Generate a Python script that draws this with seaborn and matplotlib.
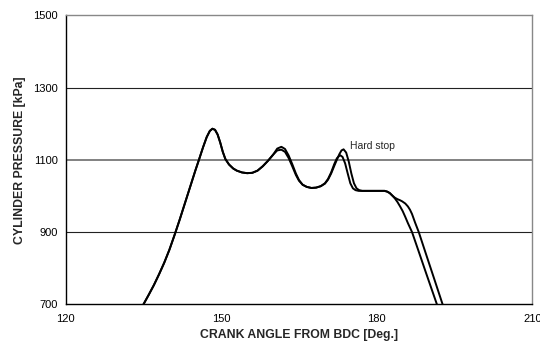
import matplotlib
matplotlib.use("Agg")
import matplotlib.pyplot as plt
from matplotlib.ticker import MultipleLocator
import seaborn as sns
import pandas as pd

# Shared compression / first-peak section (both cases identical)
common_angle = [135.0, 136.0, 137.0, 138.0, 139.0, 140.0, 141.0, 142.0, 143.0, 144.0,
                145.0, 145.7, 146.5, 147.2, 147.8, 148.3, 148.8, 149.3, 149.8, 150.3,
                150.8, 151.5, 152.3, 153.0, 154.0, 155.0, 156.0, 157.0, 158.0, 159.0,
                160.0]
common_pressure = [700, 726, 753, 783, 815, 851, 892, 935, 980, 1025,
                   1070, 1100, 1135, 1163, 1180, 1186, 1183, 1170, 1148, 1122,
                   1102, 1087, 1076, 1070, 1065, 1063, 1064, 1070, 1082, 1097,
                   1114]

# Soft-stop case
soft_angle = [160.8, 161.6, 162.3, 163.0, 163.7, 164.4, 165.0, 165.7, 166.5, 167.4,
              168.3, 169.2, 170.0, 170.6, 171.2, 171.8, 172.3, 172.9, 173.4, 173.9,
              174.4, 174.9, 175.4, 175.9, 176.5, 178.0, 180.0, 181.5, 182.0, 182.5,
              183.0, 183.5, 184.0, 184.5, 185.0, 185.5, 186.0, 186.8, 188.0, 189.5,
              191.6]
soft_pressure = [1126, 1128, 1122, 1105, 1082, 1058, 1042, 1031, 1025, 1022,
                 1023, 1027, 1035, 1047, 1065, 1088, 1104, 1113, 1108, 1090,
                 1062, 1035, 1021, 1016, 1014, 1014, 1014, 1014, 1012, 1008,
                 1001, 993, 983, 971, 958, 942, 925, 900, 850, 787,
                 700]

# Hard-stop case
hard_angle = [160.8, 161.6, 162.3, 163.0, 163.7, 164.4, 165.0, 165.7, 166.5, 167.4,
              168.3, 169.2, 170.0, 170.6, 171.2, 171.8, 172.3, 172.8, 173.2, 173.6,
              174.1, 174.6, 175.1, 175.6, 176.1, 176.6, 177.2, 178.0, 180.0, 181.5,
              182.0, 182.5, 183.0, 183.5, 184.0, 184.5, 184.9, 185.5, 186.0, 186.4,
              186.8, 187.4, 188.1, 189.5, 191.0, 192.7]
hard_pressure = [1131, 1136, 1130, 1112, 1088, 1062, 1044, 1031, 1025, 1022,
                 1023, 1027, 1034, 1045, 1062, 1083, 1100, 1116, 1126, 1129,
                 1120, 1095, 1062, 1035, 1021, 1016, 1014, 1014, 1014, 1014,
                 1012, 1008, 1001, 995, 991, 988, 985, 979, 971, 962,
                 950, 926, 900, 839, 774, 700]

x_ticks = [120, 150, 180, 210]
y_ticks = [700, 900, 1100, 1300, 1500]

frames = []
for name, ang, prs in [("soft", soft_angle, soft_pressure), ("hard", hard_angle, hard_pressure)]:
    frames.append(pd.DataFrame({"angle": common_angle + ang,
                                "pressure": common_pressure + prs,
                                "case": name}))
df = pd.concat(frames, ignore_index=True)

sns.set_style("white")
plt.rcParams["font.family"] = ["Liberation Sans", "DejaVu Sans"]

fig = plt.figure(figsize=(5.4, 3.43), dpi=100)
ax = fig.add_axes([0.1217, 0.1128, 0.8640, 0.8426])

# Horizontal reference lines
for yv, col, lw in [(900, "#222222", 0.8), (1100, "#777777", 1.3), (1300, "#222222", 0.8)]:
    ax.axhline(yv, color=col, lw=lw, zorder=1)

sns.lineplot(data=df, x="angle", y="pressure", hue="case", units="case",
             estimator=None, sort=False, palette={"soft": "black", "hard": "black"},
             lw=1.4, legend=False, ax=ax, zorder=3)

ax.set_xlim(120, 210)
ax.set_ylim(700, 1500)
ax.set_xticks(x_ticks)
ax.set_yticks(y_ticks)
ax.xaxis.set_minor_locator(MultipleLocator(5))
ax.yaxis.set_minor_locator(MultipleLocator(50))
ax.tick_params(axis="both", which="major", direction="inout", length=5, width=0.8,
               colors="black", labelsize=8, pad=3)
ax.tick_params(axis="both", which="minor", direction="in", length=3, width=0.8,
               colors="black")
ax.tick_params(axis="x", which="both", top=False)
ax.tick_params(axis="y", which="both", right=False)
ax.tick_params(axis="x", which="major", pad=4.5)

for side in ["left", "bottom"]:
    ax.spines[side].set_color("black")
    ax.spines[side].set_linewidth(1.0)
for side in ["top", "right"]:
    ax.spines[side].set_visible(True)
    ax.spines[side].set_color("#888888")
    ax.spines[side].set_linewidth(1.0)

ax.set_xlabel("CRANK ANGLE FROM BDC [Deg.]", fontsize=8.8, fontweight="bold", labelpad=3.5)
ax.set_ylabel("CYLINDER PRESSURE [kPa]", fontsize=8.8, fontweight="bold", labelpad=5)

ax.text(174.9, 1138, "Hard stop", fontsize=7.5, ha="left", va="center")

fig.savefig("out.png", dpi=100)
